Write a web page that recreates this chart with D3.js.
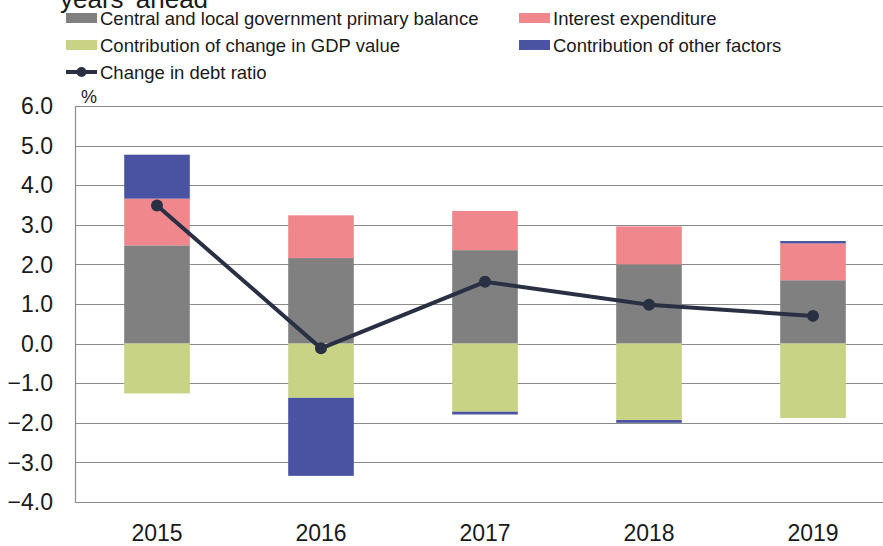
<!DOCTYPE html>
<html>
<head>
<meta charset="utf-8">
<script src="https://cdn.jsdelivr.net/npm/d3@7"></script>
<style>
  html, body { margin: 0; padding: 0; background: #fff; }
  svg { display: block; font-family: "Liberation Sans", Arial, sans-serif; }
</style>
</head>
<body>
<svg id="chart" width="883" height="546"></svg>
<script>
// ---- data ----
const years = ["2015", "2016", "2017", "2018", "2019"];
const primaryBalance = [2.48, 2.16, 2.36, 2.00, 1.60];
const interestExpenditure = [1.18, 1.08, 0.99, 0.96, 0.93];
const gdpContribution = [-1.26, -1.37, -1.72, -1.93, -1.88];
const otherFactors = [1.11, -1.97, -0.07, -0.07, 0.06];
const debtRatioChange = [3.49, -0.12, 1.56, 0.98, 0.70];
const yTicks = [6, 5, 4, 3, 2, 1, 0, -1, -2, -3, -4];

const seriesKeys = ["primary", "interest", "gdp", "other"];
const seriesNames = {
  primary: "Central and local government primary balance",
  interest: "Interest expenditure",
  gdp: "Contribution of change in GDP value",
  other: "Contribution of other factors"
};
const colors = { primary: "#808080", interest: "#f0878d", gdp: "#c8d386", other: "#4a52a2" };
const lineColor = "#2a3044";

const rows = years.map((y, i) => ({
  year: y,
  primary: primaryBalance[i],
  interest: interestExpenditure[i],
  gdp: gdpContribution[i],
  other: otherFactors[i],
  change: debtRatioChange[i]
}));

const svg = d3.select("#chart");
const plot = { left: 75, right: 895, top: 106, bottom: 502 };

const x = d3.scaleBand().domain(years).range([plot.left, plot.right])
  .paddingInner(0.6).paddingOuter(0.3);
const y = d3.scaleLinear().domain([-4, 6]).range([plot.bottom, plot.top]);

// title fragment (cut off at top, as in the reference)
svg.append("text").attr("x", 60).attr("y", 8)
  .attr("font-size", 26).attr("fill", "#1a1a1a").text("years' ahead");

// gridlines
svg.append("g").selectAll("line").data(yTicks).join("line")
  .attr("x1", plot.left).attr("x2", plot.right)
  .attr("y1", d => Math.round(y(d)) + 0.5).attr("y2", d => Math.round(y(d)) + 0.5)
  .attr("stroke", "#8a8a8a").attr("stroke-width", 1.2);

// left axis line
svg.append("line")
  .attr("x1", plot.left + 0.5).attr("x2", plot.left + 0.5)
  .attr("y1", plot.top).attr("y2", plot.bottom + 1)
  .attr("stroke", "#8a8a8a").attr("stroke-width", 1.2);

// y tick labels
svg.append("g").selectAll("text").data(yTicks).join("text")
  .attr("x", 53).attr("y", d => y(d))
  .attr("dy", "0.36em")
  .attr("text-anchor", "end")
  .attr("font-size", 23).attr("fill", "#1a1a1a")
  .text(d => d3.format(".1f")(d));

// % unit
svg.append("text").attr("x", 81).attr("y", 103)
  .attr("font-size", 18).attr("fill", "#1a1a1a").text("%");

// stacked bars
const stack = d3.stack().keys(seriesKeys).offset(d3.stackOffsetDiverging);
const stacked = stack(rows);
svg.append("g").selectAll("g").data(stacked).join("g")
  .attr("fill", d => colors[d.key])
  .selectAll("rect").data(d => d).join("rect")
  .attr("x", d => x(d.data.year))
  .attr("width", x.bandwidth())
  .attr("y", d => y(Math.max(d[0], d[1])))
  .attr("height", d => Math.abs(y(d[0]) - y(d[1])));

// line
const lineGen = d3.line()
  .x(d => x(d.year) + x.bandwidth() / 2)
  .y(d => y(d.change));
svg.append("path").datum(rows)
  .attr("d", lineGen)
  .attr("fill", "none").attr("stroke", lineColor).attr("stroke-width", 4);
svg.append("g").selectAll("circle").data(rows).join("circle")
  .attr("cx", d => x(d.year) + x.bandwidth() / 2)
  .attr("cy", d => y(d.change))
  .attr("r", 6).attr("fill", lineColor);

// x labels
svg.append("g").selectAll("text").data(years).join("text")
  .attr("x", d => x(d) + x.bandwidth() / 2)
  .attr("y", 541)
  .attr("text-anchor", "middle")
  .attr("font-size", 23).attr("fill", "#1a1a1a")
  .text(d => d);

// legend
const legendItems = [
  { key: "primary", x: 66, y: 25 },
  { key: "interest", x: 519, y: 25 },
  { key: "gdp", x: 66, y: 52 },
  { key: "other", x: 519, y: 52 }
];
const lg = svg.append("g");
legendItems.forEach(it => {
  lg.append("rect").attr("x", it.x).attr("y", it.y - 12)
    .attr("width", 31).attr("height", 10).attr("fill", colors[it.key]);
  lg.append("text").attr("x", it.x + 34).attr("y", it.y)
    .attr("font-size", 18.5).attr("fill", "#1a1a1a").text(seriesNames[it.key]);
});
lg.append("line").attr("x1", 66).attr("x2", 97).attr("y1", 72).attr("y2", 72)
  .attr("stroke", lineColor).attr("stroke-width", 4);
lg.append("circle").attr("cx", 81.5).attr("cy", 72).attr("r", 5).attr("fill", lineColor);
lg.append("text").attr("x", 100).attr("y", 79)
  .attr("font-size", 18.5).attr("fill", "#1a1a1a").text("Change in debt ratio");
</script>
</body>
</html>
